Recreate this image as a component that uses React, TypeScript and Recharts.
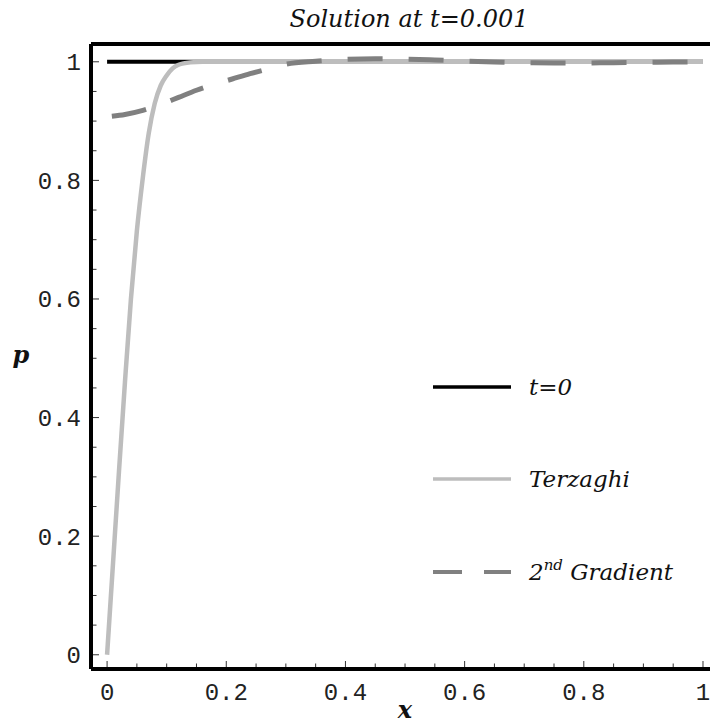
import React from "react";
import {
  LineChart,
  Line,
  XAxis,
  YAxis,
  ReferenceLine,
  Legend,
} from "recharts";

// reading off the reference plot (Mathematica style frame)
const X_TICKS = [0, 0.05, 0.1, 0.15, 0.2, 0.25, 0.3, 0.35, 0.4, 0.45, 0.5, 0.55, 0.6, 0.65, 0.7, 0.75, 0.8, 0.85, 0.9, 0.95, 1];
const Y_TICKS = [0, 0.05, 0.1, 0.15, 0.2, 0.25, 0.3, 0.35, 0.4, 0.45, 0.5, 0.55, 0.6, 0.65, 0.7, 0.75, 0.8, 0.85, 0.9, 0.95, 1];
const MAJOR_TICKS = [0, 0.2, 0.4, 0.6, 0.8, 1];

// right side of the frame runs off the picture
const X_DOMAIN: [number, number] = [-0.027, 1.094];
const Y_DOMAIN: [number, number] = [-0.024, 1.03];

const T0_X = [0, 1];
const T0_P = [1, 1];

const TERZ_X = [0, 0.01, 0.02, 0.03, 0.04, 0.05, 0.06, 0.07, 0.08, 0.09, 0.1, 0.11, 0.12, 0.14, 0.16, 0.2, 0.4, 0.6, 0.8, 1];
const TERZ_P = [0, 0.155, 0.31, 0.46, 0.6, 0.715, 0.805, 0.88, 0.93, 0.96, 0.977, 0.989, 0.995, 0.999, 1, 1, 1, 1, 1, 1];

const GRAD_X = [0.008, 0.03, 0.06, 0.09, 0.12, 0.15, 0.18, 0.21, 0.24, 0.27, 0.3, 0.35, 0.4, 0.45, 0.5, 0.55, 0.6, 0.65, 0.7, 0.75, 0.8, 0.85, 0.9, 0.95, 1];
const GRAD_P = [0.908, 0.911, 0.918, 0.928, 0.94, 0.952, 0.962, 0.971, 0.98, 0.988, 0.996, 1.001, 1.004, 1.005, 1.0045, 1.003, 1.001, 0.9995, 0.9985, 0.998, 0.998, 0.9985, 0.999, 0.9995, 1.0];

const toRows = (xs: number[], ps: number[]) => xs.map((x, i) => ({ x, p: ps[i] }));
const t0Data = toRows(T0_X, T0_P);
const terzData = toRows(TERZ_X, TERZ_P);
const gradData = toRows(GRAD_X, GRAD_P);

const isMajor = (v: number) => MAJOR_TICKS.some((m) => Math.abs(m - v) < 1e-9);

const MONO = "'Liberation Mono', 'DejaVu Sans Mono', monospace";
const SERIF = "'DejaVu Serif', 'Liberation Serif', serif";
const TICK_COLOR = "#333";

function BottomTick(props: any) {
  const { x, y, payload } = props;
  const major = isMajor(payload.value);
  return (
    <g>
      <line x1={x} x2={x} y1={y - 2} y2={y - 2 - (major ? 6 : 3.5)} stroke={TICK_COLOR} strokeWidth={1} />
      {major && (
        <text x={x} y={y + 31} textAnchor="middle" fontFamily={MONO} fontSize={24} fill="#222">
          {String(payload.value)}
        </text>
      )}
    </g>
  );
}

function TopTick(props: any) {
  const { x, y, payload } = props;
  const major = isMajor(payload.value);
  return <line x1={x} x2={x} y1={y + 2} y2={y + 2 + (major ? 6 : 3.5)} stroke={TICK_COLOR} strokeWidth={1} />;
}

function LeftTick(props: any) {
  const { x, y, payload } = props;
  const major = isMajor(payload.value);
  return (
    <g>
      <line x1={x + 2} x2={x + 2 + (major ? 6 : 3.5)} y1={y} y2={y} stroke={TICK_COLOR} strokeWidth={1} />
      {major && (
        <text x={x - 10} y={y} dy="0.35em" textAnchor="end" fontFamily={MONO} fontSize={24} fill="#222">
          {String(payload.value)}
        </text>
      )}
    </g>
  );
}

function LegendBox() {
  const textStyle = { fontFamily: SERIF, fontStyle: "italic" as const, fontSize: 23, fill: "#111" };
  return (
    <svg width={300} height={240} style={{ display: "block" }}>
      <line x1={13} x2={91} y1={27} y2={27} stroke="#000" strokeWidth={3.5} />
      <text x={109} y={35} {...textStyle}>t=0</text>
      <line x1={13} x2={91} y1={119} y2={119} stroke="#bdbdbd" strokeWidth={3.5} />
      <text x={109} y={127} {...textStyle}>Terzaghi</text>
      <line x1={13} x2={91} y1={212} y2={212} stroke="#808080" strokeWidth={4} strokeDasharray="29 22" />
      <text x={109} y={220} {...textStyle}>
        2<tspan dy={-10} fontSize={15}>nd</tspan>
        <tspan dy={10}> Gradient</tspan>
      </text>
    </svg>
  );
}

const textBase = {
  position: "absolute" as const,
  fontFamily: SERIF,
  fontStyle: "italic" as const,
  color: "#111",
};

export default function App() {
  return (
    <div style={{ position: "fixed", left: 0, top: 0, width: 710, height: 725, overflow: "hidden", background: "#fff" }}>
      <div style={{ ...textBase, left: 0, top: 5, width: 818, textAlign: "center", fontSize: 24, lineHeight: "28px" }}>
        Solution at t=0.001
      </div>
      <LineChart width={760} height={725} margin={{ top: 44, right: 1, bottom: 0, left: 0 }}>
        <XAxis
          dataKey="x"
          type="number"
          domain={X_DOMAIN}
          allowDataOverflow
          ticks={X_TICKS}
          interval={0}
          tick={<BottomTick />}
          tickSize={0}
          tickMargin={0}
          axisLine={false}
          tickLine={false}
          height={56}
        />
        <XAxis
          xAxisId="top"
          orientation="top"
          dataKey="x"
          type="number"
          domain={X_DOMAIN}
          allowDataOverflow
          ticks={X_TICKS}
          interval={0}
          tick={<TopTick />}
          tickSize={0}
          tickMargin={0}
          axisLine={false}
          tickLine={false}
          height={0}
        />
        <YAxis
          type="number"
          domain={Y_DOMAIN}
          allowDataOverflow
          ticks={Y_TICKS}
          interval={0}
          tick={<LeftTick />}
          tickSize={0}
          tickMargin={0}
          axisLine={false}
          tickLine={false}
          width={91}
        />
        <Line data={t0Data} dataKey="p" name="t=0" stroke="#000" strokeWidth={4} dot={false} type="linear" isAnimationActive={false} />
        <Line data={terzData} dataKey="p" name="Terzaghi" stroke="#bdbdbd" strokeWidth={4.5} dot={false} type="monotone" isAnimationActive={false} />
        <Line data={gradData} dataKey="p" stroke="#808080" strokeWidth={5} strokeDasharray="35 26" dot={false} type="monotone" isAnimationActive={false} />
        <ReferenceLine x={X_DOMAIN[0]} stroke="#000" strokeWidth={4} ifOverflow="visible" />
        <ReferenceLine y={Y_DOMAIN[0]} stroke="#000" strokeWidth={4} ifOverflow="visible" />
        <ReferenceLine y={Y_DOMAIN[1]} stroke="#000" strokeWidth={4} ifOverflow="visible" />
        <Legend
          layout="vertical"
          align="center"
          verticalAlign="middle"
          content={() => <LegendBox />}
          wrapperStyle={{ left: 420, top: 360, width: 300, height: 240 }}
        />
      </LineChart>
      <div style={{ ...textBase, left: 395, top: 697, width: 20, textAlign: "center", fontSize: 24, fontWeight: 700, lineHeight: "26px" }}>
        x
      </div>
      <div style={{ ...textBase, left: 11, top: 342, width: 20, textAlign: "center", fontSize: 24, fontWeight: 700, lineHeight: "26px" }}>
        p
      </div>
    </div>
  );
}
